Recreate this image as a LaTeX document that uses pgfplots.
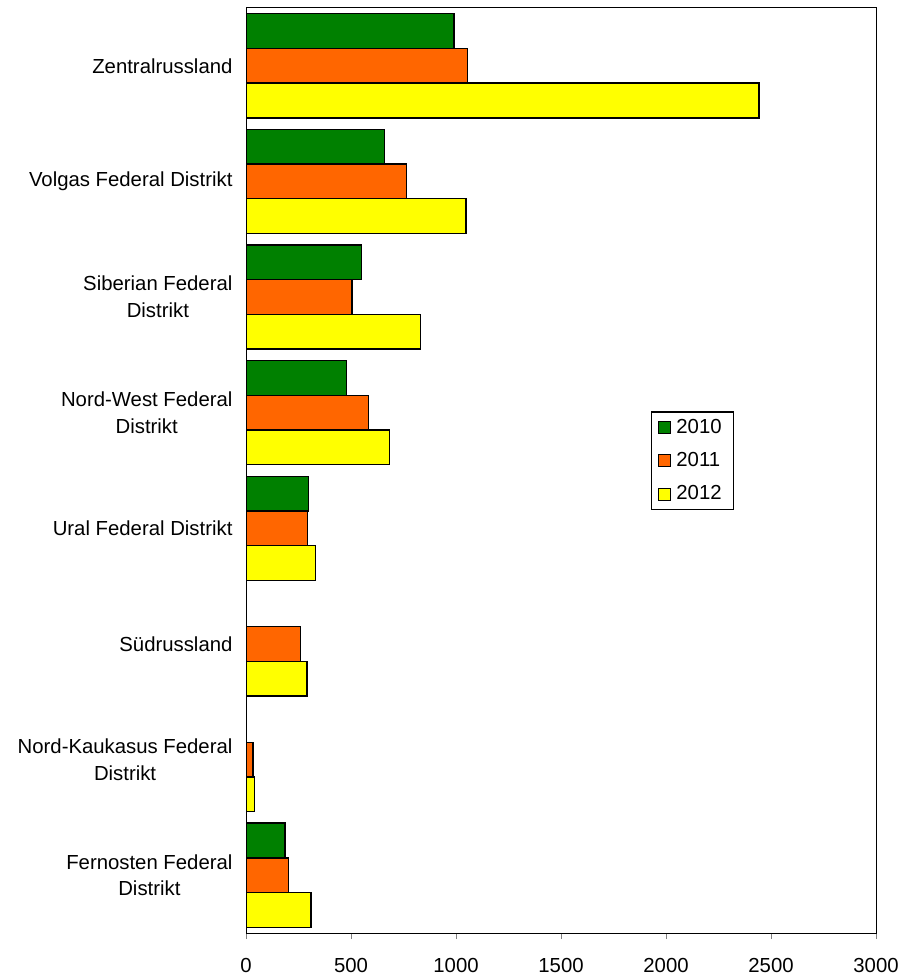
\documentclass[border=0pt]{standalone}
\usepackage{pgfplots}
\pgfplotsset{compat=1.18}
\usepackage{fontspec}
\setmainfont{Liberation Sans}
\definecolor{cGreen}{HTML}{008000}
\definecolor{cOrange}{HTML}{FF6600}
\definecolor{cYellow}{HTML}{FFFF00}
\begin{document}
\begin{tikzpicture}
\begin{axis}[
  scale only axis,
  width=378pt, height=555pt,
  xbar,
  bar width=0.3,
  xmin=0, xmax=3000,
  ymin=-0.5, ymax=7.5,
  y dir=reverse,
  xtick={0,500,...,3000},
  ytick={0,...,7},
  yticklabels={Zentralrussland,Volgas Federal Distrikt,Siberian Federal\\Distrikt,Nord-West Federal\\Distrikt,Ural Federal Distrikt,Südrussland,Nord-Kaukasus Federal\\Distrikt,Fernosten Federal\\Distrikt},
  yticklabel style={align=center,font=\fontsize{12.2}{16}\selectfont,xshift=-1pt},
  ytick style={draw=none},
  xtick pos=bottom,
  tick align=outside,
  major tick length=3.6pt,
  xticklabel style={font=\fontsize{12.2}{14}\selectfont,yshift=-8pt},
  /pgf/number format/assume math mode=true,
  /pgf/number format/1000 sep={},
  scaled x ticks=false,
  axis line style={line width=0.6pt},
  legend style={at={(rel axis cs:0.643,0.564)},anchor=north west,draw=black,line width=0.8pt,font=\fontsize{12.2}{14}\selectfont,row sep=6pt,inner xsep=3.5pt,inner ysep=2.2pt,nodes={inner xsep=3.5pt}},
  legend image code/.code={\draw[#1,line width=0.6pt] (0pt,-3.6pt) rectangle (7.2pt,3.6pt);},
  legend cell align=left,
]
\addplot[draw=black,fill=cGreen,line width=0.8pt,bar shift=-0.3] coordinates {
(990,0) (660,1) (551,2) (478,3) (298,4) (186,7)};
\addplot[draw=black,fill=cOrange,line width=0.8pt,bar shift=0] coordinates {
(1056,0) (765,1) (505,2) (583,3) (293,4) (259,5) (33,6) (203,7)};
\addplot[draw=black,fill=cYellow,line width=0.8pt,bar shift=0.3] coordinates {
(2443,0) (1048,1) (830,2) (683,3) (332,4) (290,5) (40,6) (310,7)};
\legend{2010,2011,2012}
\end{axis}
\pgfresetboundingbox
\path[use as bounding box] ([shift={(-147.6pt,-25.8pt)}]current axis.south west) rectangle ([shift={(19.2pt,4.8pt)}]current axis.north east);
\end{tikzpicture}
\end{document}
